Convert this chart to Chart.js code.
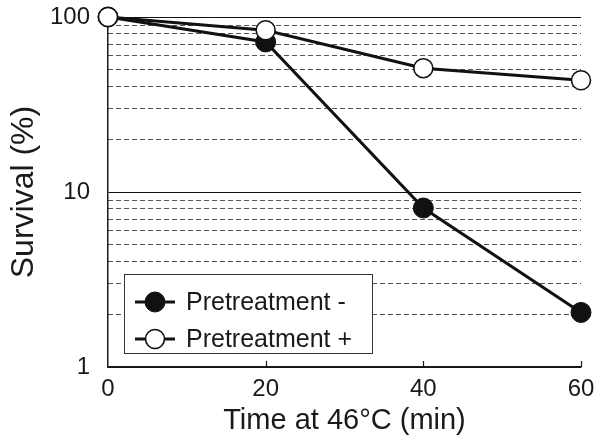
<!DOCTYPE html>
<html><head><meta charset="utf-8">
<script src="https://cdn.jsdelivr.net/npm/chart.js@4"></script>
<style>html,body{margin:0;padding:0;background:#fff}#wrap{width:596px;height:438px}</style>
</head><body><div id="wrap"><canvas id="c" width="596" height="438"></canvas></div>
<script>
const times = [0, 20, 40, 60];
const seriesNames = ['Pretreatment -', 'Pretreatment +'];
const survivalMinus = [100, 72, 8.1, 2.05];
const survivalPlus = [100, 84, 51, 43.5];
const xTicks = [0, 20, 40, 60];
const yMajorTicks = [1, 10, 100];
const yMinorTicks = [2, 3, 4, 5, 6, 7, 8, 9, 20, 30, 40, 50, 60, 70, 80, 90];
const xTitle = 'Time at 46°C (min)';
const yTitle = 'Survival (%)';

const FONT = 'Liberation Sans, Arial, Helvetica, sans-serif';
const INK = '#1a1a1a';

const toPoints = vals => times.map((t, i) => ({x: t, y: vals[i]}));

const noPad = s => { s.paddingTop = 0; s.paddingBottom = 0; s.paddingLeft = 0; s.paddingRight = 0; };

const insideTicks = {
  id: 'insideTicks',
  afterDraw(chart) {
    const xs = chart.scales.x, ctx = chart.ctx;
    ctx.save();
    ctx.strokeStyle = INK; ctx.lineWidth = 1.2;
    xTicks.forEach(v => {
      if (v === 0) return;
      const px = Math.round(xs.getPixelForValue(v)) + 0.5;
      ctx.beginPath();
      ctx.moveTo(px, chart.chartArea.bottom);
      ctx.lineTo(px, chart.chartArea.bottom - 6);
      ctx.stroke();
    });
    ctx.restore();
  }
};

const boxLegend = {
  id: 'boxLegend',
  afterDatasetsDraw(chart) {
    const {ctx, chartArea} = chart;
    const x0 = chartArea.left + 16, y0 = chartArea.bottom - 93, w = 248, h = 79;
    ctx.save();
    ctx.fillStyle = '#fff';
    ctx.fillRect(x0, y0, w, h);
    ctx.strokeStyle = '#333'; ctx.lineWidth = 1;
    ctx.strokeRect(x0 + 0.5, y0 + 0.5, w, h);
    chart.data.datasets.forEach((ds, i) => {
      const cy = y0 + 28 + i * 37;
      ctx.strokeStyle = ds.borderColor; ctx.lineWidth = ds.borderWidth;
      ctx.beginPath(); ctx.moveTo(x0 + 11, cy); ctx.lineTo(x0 + 51, cy); ctx.stroke();
      ctx.beginPath(); ctx.arc(x0 + 31, cy, ds.pointRadius, 0, Math.PI * 2);
      ctx.fillStyle = ds.pointBackgroundColor; ctx.fill();
      ctx.lineWidth = ds.pointBorderWidth; ctx.strokeStyle = ds.pointBorderColor; ctx.stroke();
      ctx.fillStyle = INK;
      ctx.font = '25px ' + FONT;
      ctx.textBaseline = 'middle'; ctx.textAlign = 'left';
      ctx.fillText(ds.label, x0 + 62, cy + 1);
    });
    ctx.restore();
  }
};

new Chart(document.getElementById('c'), {
  type: 'line',
  data: {
    datasets: [
      {
        label: seriesNames[0], data: toPoints(survivalMinus),
        borderColor: '#111', borderWidth: 3, tension: 0,
        pointRadius: 10, pointBackgroundColor: '#111', pointBorderColor: '#111', pointBorderWidth: 1,
        clip: false, order: 1, xAxisID: 'x', yAxisID: 'y'
      },
      {
        label: seriesNames[1], data: toPoints(survivalPlus),
        borderColor: '#111', borderWidth: 3, tension: 0,
        pointRadius: 9.5, pointBackgroundColor: '#fff', pointBorderColor: '#111', pointBorderWidth: 1.6,
        clip: false, order: 0, xAxisID: 'x', yAxisID: 'y'
      }
    ]
  },
  options: {
    responsive: false, animation: false, devicePixelRatio: 1,
    layout: {padding: {top: 17, right: 15, left: 0, bottom: 0}},
    plugins: {legend: {display: false}, tooltip: {enabled: false}},
    scales: {
      x: {
        type: 'linear', min: 0, max: 60, position: 'bottom',
        afterBuildTicks: s => { s.ticks = xTicks.map(v => ({value: v})); },
        ticks: {font: {family: FONT, size: 24}, color: INK, padding: 8, maxRotation: 0, autoSkip: false},
        grid: {drawOnChartArea: false, drawTicks: false},
        border: {display: true, color: INK, width: 1.5},
        title: {display: true, text: xTitle, color: INK, font: {family: FONT, size: 29}, padding: {top: 7, bottom: 0}},
        afterFit: s => { s.height = 71; noPad(s); }
      },
      y: {
        type: 'logarithmic', min: 1, max: 100, position: 'left',
        afterBuildTicks: s => { s.ticks = yMajorTicks.map(v => ({value: v})); },
        ticks: {font: {family: FONT, size: 24}, color: INK, padding: 18, callback: v => String(v)},
        grid: {color: '#111', lineWidth: 1, drawTicks: false},
        border: {display: true, color: INK, width: 1.5},
        title: {display: true, text: yTitle, color: INK, font: {family: FONT, size: 32}, padding: {top: 5, bottom: 0}},
        afterFit: s => { s.width = 108; noPad(s); }
      },
      y2: {
        type: 'logarithmic', min: 1, max: 100, position: 'left',
        afterBuildTicks: s => { s.ticks = yMinorTicks.map(v => ({value: v})); },
        ticks: {display: false},
        grid: {color: '#555', lineWidth: 1, drawTicks: false, borderDash: [5, 3]},
        border: {display: false, dash: [5, 3]},
        afterFit: s => { s.width = 0; noPad(s); }
      }
    }
  },
  plugins: [insideTicks, boxLegend]
});
</script>
</body></html>
